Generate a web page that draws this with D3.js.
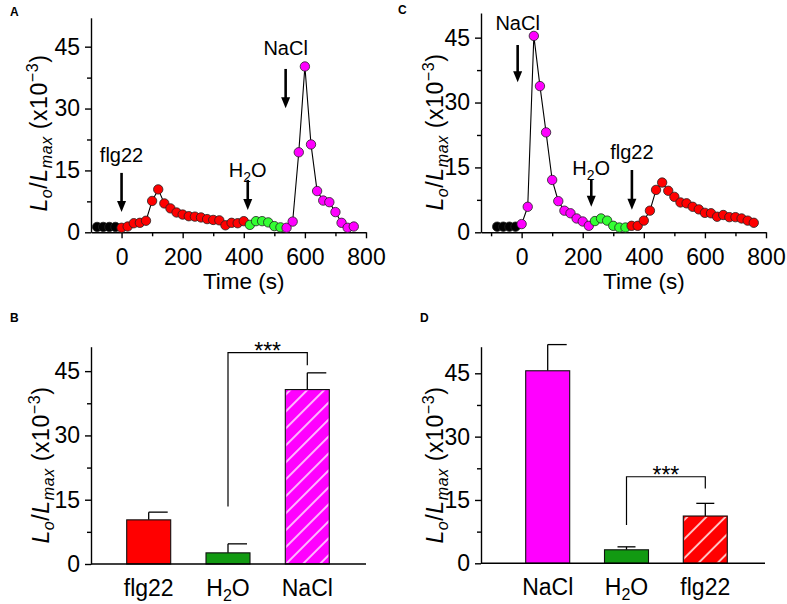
<!DOCTYPE html>
<html>
<head>
<meta charset="utf-8">
<script src="https://cdn.jsdelivr.net/npm/d3@7"></script>
<style>
body { margin: 0; background: #fff; }
svg text { font-family: "Liberation Sans", Arial, sans-serif; fill: #000; }
</style>
</head>
<body>
<svg id="fig" width="787" height="604"></svg>
<script>
// ---- panel A : flg22, then H2O, then NaCl ----
var timeA = [-80, -60, -40, -20, 0, 20, 40, 60, 80, 100, 120, 140, 160, 180, 200, 220, 240, 260, 280, 300,
  320, 340, 360, 380, 400, 420, 440, 460, 480, 500, 520, 540, 560, 580, 600, 620, 640, 660, 680, 700, 720, 740, 760];
var lumA = [1.3, 1.3, 1.3, 1.3,
  1.1, 1.4, 2.2, 2.3, 2.8, 7.6, 10.4, 7.0, 5.8, 4.8, 4.3, 3.9, 3.8, 3.6, 3.2, 3.0, 2.9, 1.7, 2.3, 2.2, 2.7,
  1.8, 2.7, 2.7, 2.4, 1.5, 1.2,
  1.1, 2.6, 19.4, 40.2, 21.3, 10.0, 7.7, 7.3, 4.9, 2.3, 1.1, 1.4];
var groupsA = [["base", 4], ["flg22", 21], ["h2o", 6], ["nacl", 12]];
var notesA = [ // label, time of arrow, arrow top, arrow tip, label height
  ["flg22", 0, 14.4, 4.9, 18.7],
  ["H2O", 413, 12.7, 5.4, 15.1],
  ["NaCl", 537, 39.6, 30.1, 44.7]
];

// ---- panel C : NaCl, then H2O, then flg22 ----
var timeC = [-80, -60, -40, -20, 0, 20, 40, 60, 80, 100, 120, 140, 160, 180, 200, 220, 240, 260, 280, 300,
  320, 340, 360, 380, 400, 420, 440, 460, 480, 500, 520, 540, 560, 580, 600, 620, 640, 660, 680, 700, 720, 740, 760];
var lumC = [1.3, 1.3, 1.3, 1.3,
  1.9, 5.9, 45.4, 33.8, 23.1, 12.1, 7.2, 5.0, 4.4, 3.2, 2.5, 1.5,
  2.6, 3.2, 2.7, 1.5, 1.1, 1.1,
  1.5, 1.5, 2.7, 5.0, 9.8, 11.5, 9.6, 8.2, 6.9, 6.7, 5.9, 5.3, 4.5, 4.4, 3.6, 4.0, 3.5, 3.5, 3.2, 2.7, 2.2];
var groupsC = [["base", 4], ["nacl", 12], ["h2o", 6], ["flg22", 21]];
var notesC = [
  ["NaCl", -13, 43.3, 34.7, 48.4],
  ["H2O", 228, 12.1, 5.9, 14.9],
  ["flg22", 361, 14.4, 5.2, 18.5]
];

// ---- panel B / D : peak means ----
var catsB = ["flg22", "H2O", "NaCl"];
var meanB = [10.3, 2.6, 40.7];
var errB = [12.1, 4.7, 44.6];
var sigB = ["H2O", 13.4, 49.3, "NaCl", 46.4, "***"];

var catsD = ["NaCl", "H2O", "flg22"];
var meanD = [45.6, 3.2, 11.2];
var errD = [51.8, 3.9, 14.2];
var sigD = ["H2O", 9.1, 20.5, "flg22", 17.7, "***"];

var yTicks = [0, 15, 30, 45];
var yMinor = [7.5, 22.5, 37.5];
var xTicks = [0, 200, 400, 600, 800];
var xMinor = [-100, 100, 300, 500, 700];

var dotColor = { base: "#000000", flg22: "#ff0000", h2o: "#33ff33", nacl: "#ff00ff" };
var barColor = { flg22: "#ff0000", H2O: "#129a12", NaCl: "#ff00ff" };

var svg = d3.select("#fig");

// hatch patterns
var defs = svg.append("defs");
function hatch(id, w) {
  var p = defs.append("pattern").attr("id", id).attr("patternUnits", "userSpaceOnUse")
    .attr("width", w).attr("height", w).attr("patternTransform", "rotate(45)");
  p.append("line").attr("x1", 1).attr("y1", 0).attr("x2", 1).attr("y2", w)
    .attr("stroke", "#fff").attr("stroke-width", 1.7).attr("stroke-opacity", 0.85);
}
hatch("hatchB", 12);
hatch("hatchD", 13.5);

function styleAxis(g) {
  g.selectAll("path, line").attr("stroke", "#000").attr("stroke-width", 1.4);
  g.selectAll("text").attr("font-size", 23).attr("font-family", '"Liberation Sans", Arial, sans-serif');
}

function yLabel(cx, cy) {
  var t = svg.append("text").attr("transform", "translate(" + cx + "," + cy + ") rotate(-90)")
    .attr("text-anchor", "middle").attr("font-size", 23).attr("letter-spacing", 0.6);
  t.append("tspan").attr("font-style", "italic").text("L");
  t.append("tspan").attr("font-style", "italic").attr("font-size", 16).attr("dy", 5).text("o");
  t.append("tspan").attr("dy", -5).text("/");
  t.append("tspan").attr("font-style", "italic").text("L");
  t.append("tspan").attr("font-style", "italic").attr("font-size", 16).attr("dy", 5).text("max");
  t.append("tspan").attr("dy", -5).text(" (x10");
  t.append("tspan").attr("font-size", 16).attr("dy", -9).text("\u22123");
  t.append("tspan").attr("dy", 9).text(")");
}

function chemText(sel, name, sub) {
  if (name === "H2O") {
    sel.append("tspan").text("H");
    sel.append("tspan").attr("font-size", sub).attr("dy", 5).text("2");
    sel.append("tspan").attr("dy", -5).text("O");
  } else {
    sel.text(name);
  }
}

function yAxes(y, left) {
  svg.append("g").attr("transform", "translate(" + left + ",0)")
    .call(d3.axisLeft(y).tickValues(yTicks).tickSize(6).tickPadding(5).tickSizeOuter(0))
    .call(styleAxis);
  svg.append("g").attr("transform", "translate(" + left + ",0)")
    .call(d3.axisLeft(y).tickValues(yMinor).tickSize(4).tickFormat("").tickSizeOuter(0))
    .call(styleAxis).select(".domain").remove();
}

function trace(o) {
  var x = d3.scaleLinear().domain(o.xd).range(o.xr);
  var y = d3.scaleLinear().domain(o.yd).range(o.yr);
  svg.append("g").attr("transform", "translate(0," + o.yr[0] + ")")
    .call(d3.axisBottom(x).tickValues(xTicks).tickSize(6).tickPadding(10).tickSizeOuter(0))
    .call(styleAxis);
  svg.append("g").attr("transform", "translate(0," + o.yr[0] + ")")
    .call(d3.axisBottom(x).tickValues(xMinor.filter(function (v) { return v > o.xd[0]; }))
      .tickSize(4).tickFormat("").tickSizeOuter(0))
    .call(styleAxis).select(".domain").remove();
  yAxes(y, o.xr[0]);

  var cols = [];
  o.groups.forEach(function (g) { for (var k = 0; k < g[1]; k++) cols.push(g[0]); });
  var pts = o.t.map(function (t, i) { return { t: t, v: o.v[i], c: cols[i] }; });

  svg.append("path").datum(pts)
    .attr("d", d3.line().x(function (d) { return x(d.t); }).y(function (d) { return y(d.v); }))
    .attr("fill", "none").attr("stroke", "#000").attr("stroke-width", 1.1);
  svg.append("g").selectAll("circle").data(pts).enter().append("circle")
    .attr("cx", function (d) { return x(d.t); })
    .attr("cy", function (d) { return y(d.v); })
    .attr("r", 4.7)
    .attr("fill", function (d) { return dotColor[d.c]; })
    .attr("stroke", "#222").attr("stroke-width", 0.8);

  o.notes.forEach(function (n) {
    var ax = x(n[1]), top = y(n[2]), tip = y(n[3]);
    svg.append("line").attr("x1", ax).attr("x2", ax).attr("y1", top).attr("y2", tip - 7)
      .attr("stroke", "#000").attr("stroke-width", 2.6);
    svg.append("path").attr("d", "M" + (ax - 4.5) + "," + (tip - 11) + "L" + (ax + 4.5) + "," + (tip - 11) + "L" + ax + "," + tip + "Z")
      .attr("fill", "#000");
    var lt = svg.append("text").attr("x", ax).attr("y", y(n[4]) + 7)
      .attr("text-anchor", "middle").attr("font-size", 20);
    chemText(lt, n[0], 14);
  });

  svg.append("text").attr("x", (x(0) + x(800)) / 2).attr("y", o.yr[0] + 57)
    .attr("text-anchor", "middle").attr("font-size", 22.5).text("Time (s)");
  yLabel(o.labelX, o.labelY);
}

function bars(o) {
  var x = d3.scalePoint().domain(o.cats).range(o.xr);
  var y = d3.scaleLinear().domain(o.yd).range(o.yr);
  var bw = 44;
  var g = svg.append("g");
  o.cats.forEach(function (c, i) {
    var cx = x(c);
    var cap = o.caps[i] === "mid" ? [cx - 9, cx + 9] : [cx, cx + 19];
    g.append("line").attr("x1", cx).attr("x2", cx).attr("y1", y(o.mean[i])).attr("y2", y(o.err[i]))
      .attr("stroke", "#000").attr("stroke-width", 1.3);
    g.append("line").attr("x1", cap[0]).attr("x2", cap[1]).attr("y1", y(o.err[i])).attr("y2", y(o.err[i]))
      .attr("stroke", "#000").attr("stroke-width", 1.3);
    g.append("rect").attr("x", cx - bw / 2).attr("y", y(o.mean[i]))
      .attr("width", bw).attr("height", y(0) - y(o.mean[i]))
      .attr("fill", barColor[c]).attr("stroke", "#111").attr("stroke-width", 1.1);
    if (o.hatched === c) {
      g.append("rect").attr("x", cx - bw / 2 + 1).attr("y", y(o.mean[i]) + 1)
        .attr("width", bw - 2).attr("height", y(0) - y(o.mean[i]) - 2)
        .attr("fill", "url(#" + o.pattern + ")");
    }
    var lt = svg.append("text").attr("x", cx).attr("y", o.yr[0] + 32)
      .attr("text-anchor", "middle").attr("font-size", 23);
    chemText(lt, c, 16);
  });
  svg.append("line").attr("x1", o.xaxis[0]).attr("x2", o.xaxis[1]).attr("y1", y(0)).attr("y2", y(0))
    .attr("stroke", "#000").attr("stroke-width", 1.4);
  yAxes(y, o.xaxis[0]);

  var s = o.sig, xl = x(s[0]), xr = x(s[3]);
  svg.append("path")
    .attr("d", "M" + xl + "," + y(s[1]) + "V" + y(s[2]) + "H" + xr + "V" + y(s[4]))
    .attr("fill", "none").attr("stroke", "#000").attr("stroke-width", 1.2);
  svg.append("text").attr("x", (xl + xr) / 2).attr("y", y(s[2]) + 6)
    .attr("text-anchor", "middle").attr("font-size", 23).text(s[5]);
  yLabel(o.labelX, o.labelY);
}

trace({ t: timeA, v: lumA, groups: groupsA, notes: notesA,
  xd: [-100, 800], xr: [91, 366], yd: [0, 52], yr: [232.3, 17.8], labelX: 47, labelY: 133 });
trace({ t: timeC, v: lumC, groups: groupsC, notes: notesC,
  xd: [-133, 800], xr: [481, 766], yd: [0, 50.7], yr: [232.3, 13], labelX: 443, labelY: 132 });

bars({ cats: catsB, mean: meanB, err: errB, sig: sigB, caps: ["half", "half", "half"],
  hatched: "NaCl", pattern: "hatchB", labelX: 49, labelY: 465,
  xr: [148.7, 307.3], xaxis: [91, 366], yd: [0, 50.7], yr: [564, 346.7] });
bars({ cats: catsD, mean: meanD, err: errD, sig: sigD, caps: ["half", "mid", "mid"],
  hatched: "flg22", pattern: "hatchD", labelX: 443, labelY: 465,
  xr: [547.7, 705.3], xaxis: [481, 765], yd: [0, 51.3], yr: [563.3, 346.7] });

// panel letters
[["A", 10, 16], ["C", 398, 14], ["B", 10, 322], ["D", 420, 322]].forEach(function (p) {
  svg.append("text").attr("x", p[1]).attr("y", p[2]).attr("font-size", 12)
    .attr("font-weight", "bold").text(p[0]);
});
</script>
</body>
</html>
